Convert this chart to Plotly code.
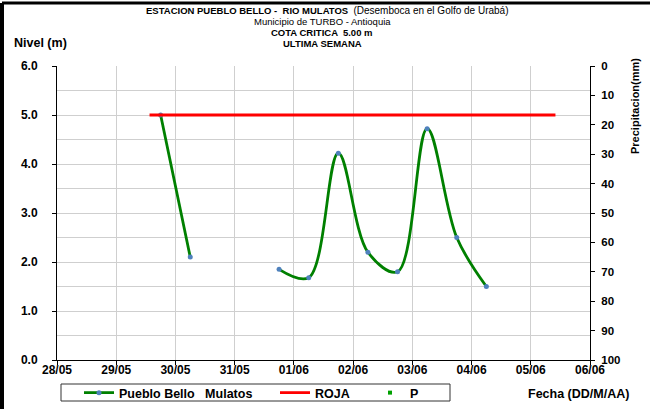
import plotly.graph_objects as go

# ---- data ----
times = ["2024-05-29 18:00", "2024-05-30 06:00", "2024-05-30 18:00", "2024-05-31 06:00",
         "2024-05-31 18:00", "2024-06-01 06:00", "2024-06-01 18:00", "2024-06-02 06:00",
         "2024-06-02 18:00", "2024-06-03 06:00", "2024-06-03 18:00", "2024-06-04 06:00"]
nivel = [5.0, 2.1, None, None, 1.85, 1.68, 4.22, 2.2, 1.8, 4.72, 2.5, 1.5]
precip = [None] * len(times)
roja_times = ["2024-05-29 13:30", "2024-06-05 10:00"]
roja_vals = [5.0, 5.0]
day_ticks = ["2024-05-28", "2024-05-29", "2024-05-30", "2024-05-31", "2024-06-01",
             "2024-06-02", "2024-06-03", "2024-06-04", "2024-06-05", "2024-06-06"]
y_ticks = [0, 1, 2, 3, 4, 5, 6]
y2_ticks = [0, 10, 20, 30, 40, 50, 60, 70, 80, 90, 100]

# ---- geometry helpers (pixel -> paper / container) ----
W, H = 650, 409
L, R, T, B = 57, 60, 66, 49
PW, PH = W - L - R, H - T - B
def px(x):
    return (x - L) / PW
def py(y):
    return (H - B - y) / PH
def cx(x):
    return x / W
def cy(y):
    return 1 - y / H

FONT = "Liberation Sans, Arial, sans-serif"

fig = go.Figure()
fig.add_trace(go.Scatter(
    x=times, y=nivel, name="Pueblo Bello   Mulatos", mode="lines+markers",
    line=dict(color="#008000", width=2.8, shape="spline", smoothing=1.0),
    marker=dict(color="#4f81bd", size=5), connectgaps=False, legend="legend"))
fig.add_trace(go.Scatter(
    x=roja_times, y=roja_vals, name="ROJA", mode="lines",
    line=dict(color="#ff0000", width=2.8), legend="legend2"))
fig.add_trace(go.Scatter(
    x=times, y=precip, name="P", mode="markers", yaxis="y2",
    marker=dict(color="#00a000", size=4, symbol="square"), legend="legend3"))

leg_common = dict(orientation="h", yref="container", xref="container",
                  yanchor="middle", y=cy(393), xanchor="left",
                  bgcolor="rgba(0,0,0,0)", borderwidth=0, itemwidth=30,
                  font=dict(family=FONT, size=12.5, color="black", weight="bold"))

fig.update_layout(
    width=W, height=H,
    margin=dict(l=L, r=R, t=T, b=B, autoexpand=False),
    paper_bgcolor="white", plot_bgcolor="white",
    font=dict(family=FONT, color="black"),
    showlegend=True,
    legend=dict(x=cx(119 - 40), **leg_common),
    legend2=dict(x=cx(315 - 40), **leg_common),
    legend3=dict(x=cx(410 - 40), **leg_common),
    xaxis=dict(
        type="date", range=[day_ticks[0], day_ticks[-1]],
        tickvals=day_ticks, tickformat="%d/%m",
        showgrid=True, gridcolor="#cfcfcf", gridwidth=1,
        showline=True, linecolor="black", linewidth=1,
        ticks="outside", ticklen=4, tickcolor="black", ticklabelstandoff=-5,
        tickfont=dict(family=FONT, size=12, color="black", weight="bold"),
        zeroline=False, automargin=False),
    yaxis=dict(
        range=[0, 6], tickvals=y_ticks, ticktext=[f"{v:.1f}" for v in y_ticks],
        showgrid=True, gridcolor="#cfcfcf", gridwidth=1,
        minor=dict(dtick=0.5, showgrid=True, gridcolor="#cfcfcf", gridwidth=1),
        showline=True, linecolor="black", linewidth=1,
        ticks="outside", ticklen=4, tickcolor="black", ticklabelstandoff=12,
        tickfont=dict(family=FONT, size=12, color="black", weight="bold"),
        zeroline=False, automargin=False),
    yaxis2=dict(
        overlaying="y", side="right", range=[100, 0], tickvals=y2_ticks,
        showgrid=False, showline=True, linecolor="black", linewidth=1,
        ticks="outside", ticklen=4, tickcolor="black", ticklabelstandoff=4,
        tickfont=dict(family=FONT, size=11.5, color="black", weight="bold"),
        zeroline=False, automargin=False),
)

# Titles
ann = [
    (327, 11, "<b>ESTACION PUEBLO BELLO -  RIO MULATOS</b>  <span style='font-size:10px'>(Desemboca en el Golfo de Urabá)</span>"),
    (322, 21.5, "Municipio de TURBO - Antioquia"),
    (322, 32, "<b>COTA CRITICA  5.00 m</b>"),
    (322, 43, "<b>ULTIMA SEMANA</b>"),
]
for x, y, t in ann:
    fig.add_annotation(xref="paper", yref="paper", xanchor="center", yanchor="middle",
                       showarrow=False, x=px(x), y=py(y), text=t, borderpad=0,
                       font=dict(family=FONT, color="black", size=9.5))

fig.add_annotation(xref="paper", yref="paper", x=px(12), y=py(43), xanchor="left", yanchor="middle",
                   showarrow=False, text="<b>Nivel (m)</b>",
                   font=dict(family=FONT, size=12.5, color="black"))
fig.add_annotation(xref="paper", yref="paper", x=px(635), y=py(106), xanchor="center", yanchor="middle",
                   showarrow=False, text="<b>Precipitacion(mm)</b>", textangle=-90,
                   font=dict(family=FONT, size=11, color="black"))
fig.add_annotation(xref="paper", yref="paper", x=px(578), y=py(394), xanchor="center", yanchor="middle",
                   showarrow=False, text="<b>Fecha (DD/M/AA)</b>",
                   font=dict(family=FONT, size=12.5, color="black"))

# Legend frame and outer border
fig.add_shape(type="rect", xref="paper", yref="paper",
              x0=px(61), x1=px(450), y0=py(401), y1=py(384),
              line=dict(color="#333333", width=1), fillcolor="rgba(0,0,0,0)")
fig.add_shape(type="line", xref="paper", yref="paper",
              x0=px(2), x1=px(650), y0=py(3), y1=py(3), line=dict(color="black", width=3))
fig.add_shape(type="line", xref="paper", yref="paper",
              x0=px(2), x1=px(2), y0=py(3), y1=py(409), line=dict(color="black", width=4))

fig.write_html("out.html", config={"displayModeBar": False},
               post_script="document.body.style.margin='0';")
